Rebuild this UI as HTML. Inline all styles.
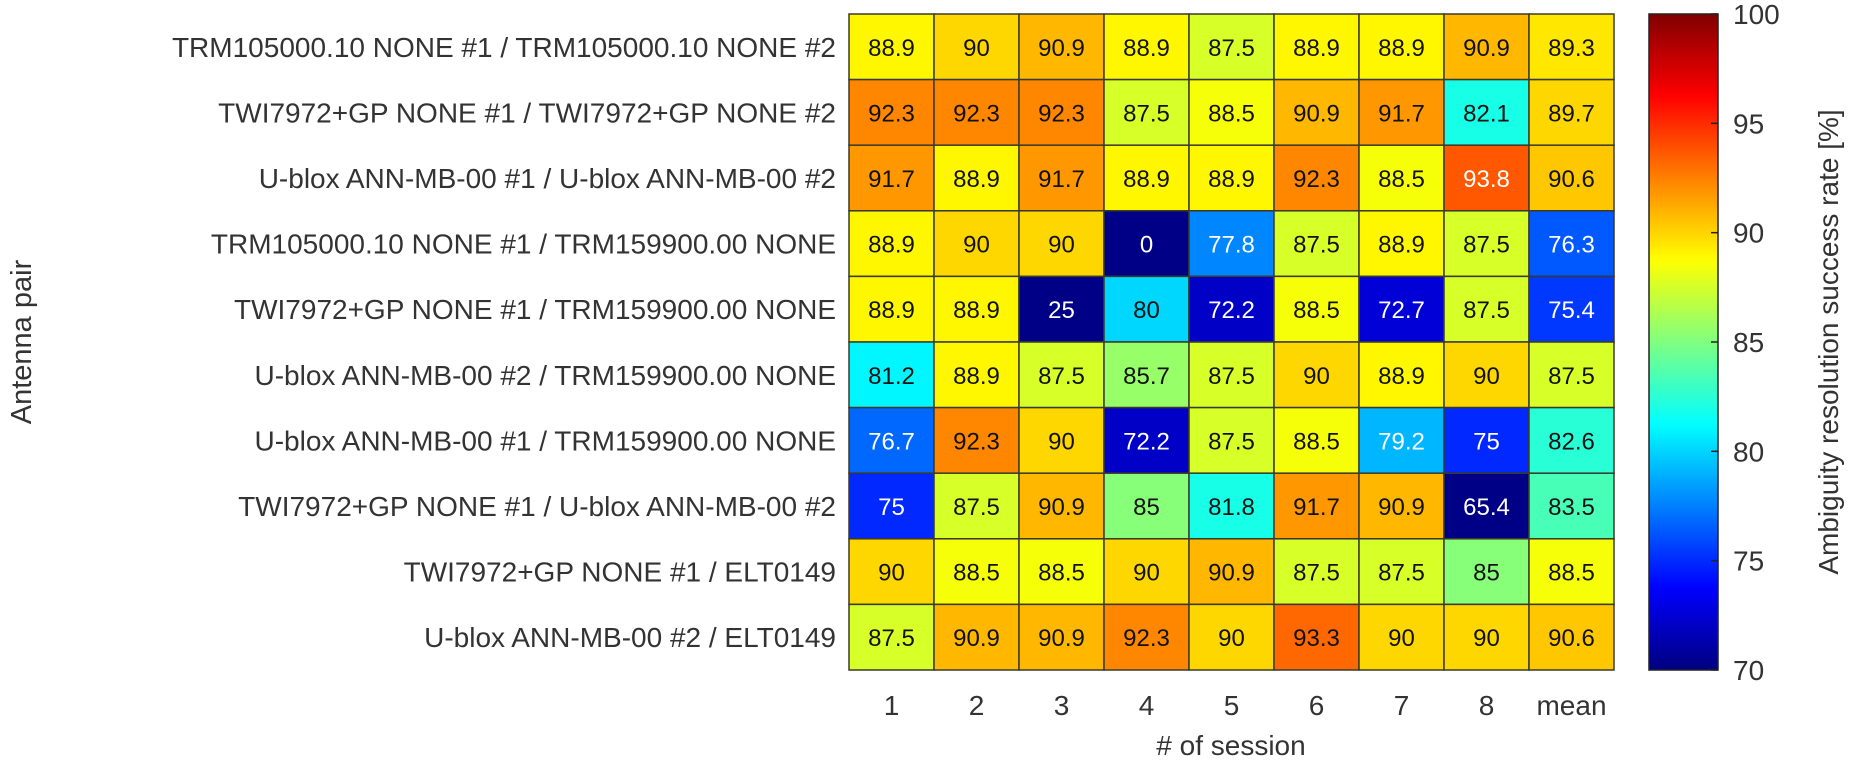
<!DOCTYPE html>
<html><head><meta charset="utf-8"><style>
html,body{margin:0;padding:0;background:#fff;}
svg{display:block;font-family:"Liberation Sans",Arial,sans-serif;}
</style></head><body>
<svg id="chart" width="1850" height="770" viewBox="0 0 1850 770">
<g id="cells"></g>
<g id="rowlabels"></g>
<g id="collabels"></g>
<defs><linearGradient id="jetgrad" x1="0" y1="1" x2="0" y2="0"></linearGradient></defs>
<rect x="1649" y="14" width="69" height="656" fill="url(#jetgrad)" stroke="#222" stroke-width="1.5"/>
<g id="cbticks"></g>
<text x="1231" y="755" font-size="28" fill="#333" text-anchor="middle"># of session</text>
<text transform="translate(31,342) rotate(-90)" font-size="29" fill="#333" text-anchor="middle">Antenna pair</text>
<text transform="translate(1838,342) rotate(-90)" font-size="28" fill="#333" text-anchor="middle">Ambiguity resolution success rate [%]</text>
</svg>
<script>
const rows = ["TRM105000.10 NONE #1 / TRM105000.10 NONE #2","TWI7972+GP NONE #1 / TWI7972+GP NONE #2","U-blox ANN-MB-00 #1 / U-blox ANN-MB-00 #2","TRM105000.10 NONE #1 / TRM159900.00 NONE","TWI7972+GP NONE #1 / TRM159900.00 NONE","U-blox ANN-MB-00 #2 / TRM159900.00 NONE","U-blox ANN-MB-00 #1 / TRM159900.00 NONE","TWI7972+GP NONE #1 / U-blox ANN-MB-00 #2","TWI7972+GP NONE #1 / ELT0149","U-blox ANN-MB-00 #2 / ELT0149"];
const cols = ["1","2","3","4","5","6","7","8","mean"];
const r1 = [88.9,90,90.9,88.9,87.5,88.9,88.9,90.9,89.3];
const r2 = [92.3,92.3,92.3,87.5,88.5,90.9,91.7,82.1,89.7];
const r3 = [91.7,88.9,91.7,88.9,88.9,92.3,88.5,93.8,90.6];
const r4 = [88.9,90,90,0,77.8,87.5,88.9,87.5,76.3];
const r5 = [88.9,88.9,25,80,72.2,88.5,72.7,87.5,75.4];
const r6 = [81.2,88.9,87.5,85.7,87.5,90,88.9,90,87.5];
const r7 = [76.7,92.3,90,72.2,87.5,88.5,79.2,75,82.6];
const r8 = [75,87.5,90.9,85,81.8,91.7,90.9,65.4,83.5];
const r9 = [90,88.5,88.5,90,90.9,87.5,87.5,85,88.5];
const r10 = [87.5,90.9,90.9,92.3,90,93.3,90,90,90.6];
const values = [r1,r2,r3,r4,r5,r6,r7,r8,r9,r10];
const cbTicks = [70,75,80,85,90,95,100];
const cmin = 70, cmax = 100;

const X0=849, X1=1614, Y0=14, Y1=670;
const cw=(X1-X0)/cols.length, rh=(Y1-Y0)/rows.length;
const xPos = i => X0 + i*cw;
const yPos = j => Y0 + j*rh;
const cbY = v => Y1 - (v-cmin)/(cmax-cmin)*(Y1-Y0);
function jet(t){
  t=Math.max(0,Math.min(1,t));
  const f=x=>Math.max(0,Math.min(1,x));
  const r=f(1.5-Math.abs(4*t-3)), g=f(1.5-Math.abs(4*t-2)), b=f(1.5-Math.abs(4*t-1));
  return `rgb(${Math.round(r*255)},${Math.round(g*255)},${Math.round(b*255)})`;
}
const colorOf = v => { const L=64; let k=Math.floor((v-cmin)/(cmax-cmin)*L); k=Math.max(0,Math.min(L-1,k)); return jet((k+0.5)/L); };
const NS='http://www.w3.org/2000/svg';
const cells=document.getElementById('cells');
values.forEach((row,j)=>{
  row.forEach((v,i)=>{
    const r=document.createElementNS(NS,'rect');
    r.setAttribute('x',xPos(i)); r.setAttribute('y',yPos(j));
    r.setAttribute('width',cw); r.setAttribute('height',rh);
    r.setAttribute('fill',colorOf(v)); r.setAttribute('stroke','#3a3a2a'); r.setAttribute('stroke-width','1.5');
    
    
    cells.appendChild(r);
    const t=document.createElementNS(NS,'text');
    t.setAttribute('x',xPos(i)+cw/2); t.setAttribute('y',yPos(j)+rh/2+9);
    t.setAttribute('text-anchor','middle'); t.setAttribute('font-size','24');
    t.setAttribute('fill',(v<79.5||v>93.5)?'#fff':'#111');
    t.textContent=String(v);
    
    
    cells.appendChild(t);
  });
});
const rl=document.getElementById('rowlabels');
rows.forEach((s,j)=>{
  const t=document.createElementNS(NS,'text');
  t.setAttribute('x',X0-13); t.setAttribute('y',yPos(j)+rh/2+10);
  t.setAttribute('text-anchor','end'); t.setAttribute('font-size','28'); t.setAttribute('fill','#333');
  t.textContent=s;
  
  
  rl.appendChild(t);
});
const cl=document.getElementById('collabels');
cols.forEach((s,i)=>{
  const t=document.createElementNS(NS,'text');
  t.setAttribute('x',xPos(i)+cw/2); t.setAttribute('y',715);
  t.setAttribute('text-anchor','middle'); t.setAttribute('font-size','28'); t.setAttribute('fill','#333');
  t.textContent=s;
  
  
  cl.appendChild(t);
});
const grad=document.getElementById('jetgrad');
for(let k=0;k<=100;k++){
  const st=document.createElementNS(NS,'stop');
  st.setAttribute('offset',k/100); st.setAttribute('stop-color',jet(k/100));
  grad.appendChild(st);
}
const cb=document.getElementById('cbticks');
cbTicks.forEach(v=>{
  const y=cbY(v);
  const l=document.createElementNS(NS,'line');
  l.setAttribute('x1',1711); l.setAttribute('x2',1718); l.setAttribute('y1',y); l.setAttribute('y2',y);
  l.setAttribute('stroke','#222'); l.setAttribute('stroke-width','1.5');
  
  
  cb.appendChild(l);
  const t=document.createElementNS(NS,'text');
  t.setAttribute('x',1733); t.setAttribute('y',y+10);
  t.setAttribute('font-size','28'); t.setAttribute('fill','#333');
  t.textContent=String(v);
  
  
  cb.appendChild(t);
});
</script>
</body></html>
